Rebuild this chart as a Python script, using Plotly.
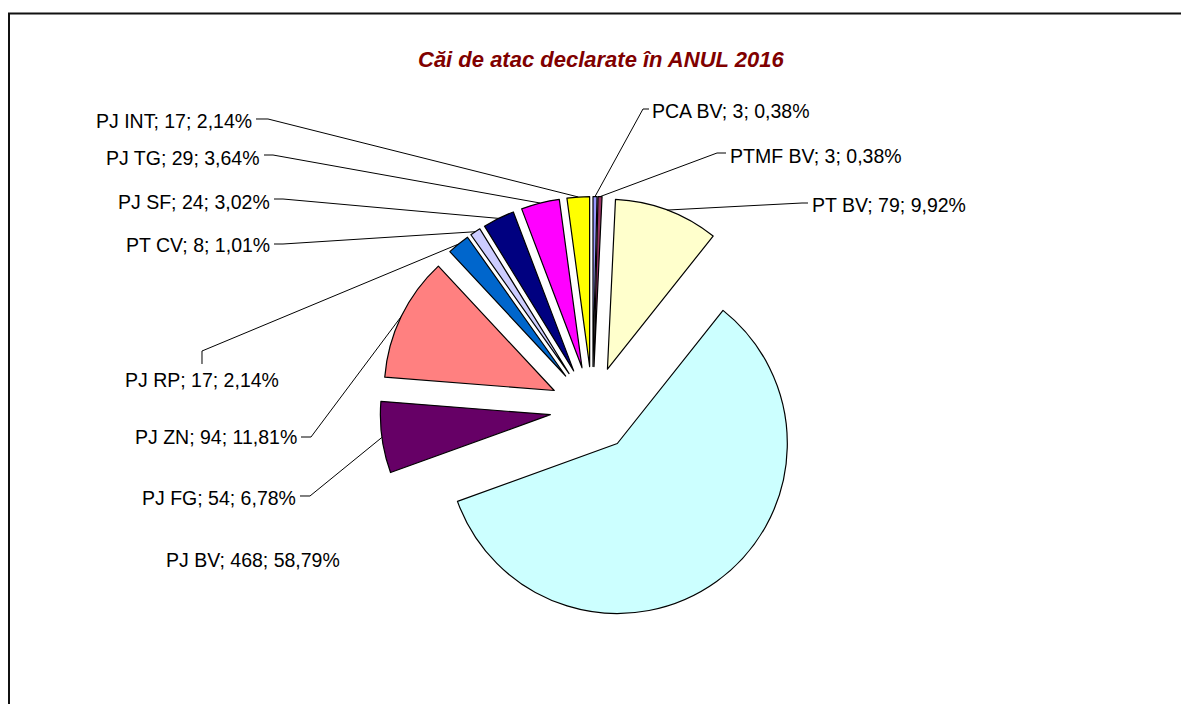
import math
import plotly.graph_objects as go

# ---------------- data ----------------
names = ["PCA BV", "PTMF BV", "PT BV", "PJ BV", "PJ FG", "PJ ZN",
         "PJ RP", "PT CV", "PJ SF", "PJ TG", "PJ INT"]
values = [3, 3, 79, 468, 54, 94, 17, 8, 24, 29, 17]
colors = ["#9999FF", "#993366", "#FFFFCC", "#CCFFFF", "#660066", "#FF8080",
          "#0066CC", "#CCCCFF", "#000080", "#FF00FF", "#FFFF00"]
title_text = "Căi de atac declarate în ANUL 2016"

# ---------------- layout constants ----------------
W, H = 1189, 704
OFF = 8  # page body margin of the html
PULL = 0.25
FONT = "Liberation Sans, Arial, sans-serif"

# pie placement in window pixels: centre and outer radius (before pull)
PIE_CX, PIE_CY, PIE_R = 592.5, 409, 170
half = PIE_R * (1 + PULL)
dom_x = [(PIE_CX - OFF - half) / W, (PIE_CX - OFF + half) / W]
dom_y = [1 - (PIE_CY - OFF + half) / H, 1 - (PIE_CY - OFF - half) / H]

# label placement in window pixels: (x, y, xanchor, leader points from slice side to label)
label_pos = {
    "PCA BV":  (650, 111, "left",   [(643, 109), (649, 109)]),
    "PTMF BV": (728, 156, "left",   [(717, 153), (726, 153)]),
    "PT BV":   (810, 205, "left",   [(802, 203), (808, 203)]),
    "PJ BV":   (253, 560, "center", []),
    "PJ FG":   (298, 498, "right",  [(310, 496), (300, 496)]),
    "PJ ZN":   (299, 437, "right",  [(311, 437), (301, 437)]),
    "PJ RP":   (202, 380, "center", [(202, 351), (202, 364)]),
    "PT CV":   (272, 245, "right",  [(283, 244), (274, 244)]),
    "PJ SF":   (272, 202, "right",  [(283, 199), (274, 199)]),
    "PJ TG":   (262, 158, "right",  [(273, 155), (264, 155)]),
    "PJ INT":  (254, 121, "right",  [(268, 119), (256, 119)]),
}

total = sum(values)


def fmt_pct(v):
    return f"{100 * v / total:.2f}".replace(".", ",") + "%"


def px2paper(x, y):
    return (x - OFF) / W, 1 - (y - OFF) / H


# pie geometry as Plotly computes it (margins are zero), in window pixels
cx = W * (dom_x[0] + dom_x[1]) / 2 + OFF
cy = H * (1 - (dom_y[0] + dom_y[1]) / 2) + OFF
r = min(W * (dom_x[1] - dom_x[0]), H * (dom_y[1] - dom_y[0])) / 2 / (1 + PULL)

fig = go.Figure()
fig.add_trace(go.Pie(
    labels=names, values=values, sort=False, direction="clockwise", rotation=0,
    pull=[PULL] * len(values), textinfo="none",
    marker=dict(colors=colors, line=dict(color="black", width=1.2)),
    domain=dict(x=dom_x, y=dom_y), showlegend=False,
    hovertemplate="%{label}: %{value} (%{percent})<extra></extra>",
))

shapes = []
annotations = []
cum = 0
for name, v in zip(names, values):
    a0 = cum / total * 360
    cum += v
    a1 = cum / total * 360
    mid = math.radians((a0 + a1) / 2)
    dx, dy = math.sin(mid), -math.cos(mid)
    ax = cx + (r + PULL * r) * dx
    ay = cy + (r + PULL * r) * dy
    x, y, xa, pts = label_pos[name]
    text = f"{name}; {v}; {fmt_pct(v)}"
    px, py = px2paper(x, y)
    annotations.append(dict(
        x=px, y=py, xref="paper", yref="paper", text=text, showarrow=False,
        xanchor=xa, yanchor="middle", font=dict(family=FONT, size=19.5, color="black"),
    ))
    if pts:
        path_pts = [(ax, ay)] + pts
        path = "M " + " L ".join(
            f"{px2paper(p[0], p[1])[0]:.5f},{px2paper(p[0], p[1])[1]:.5f}" for p in path_pts)
        shapes.append(dict(type="path", path=path, xref="paper", yref="paper",
                           line=dict(color="black", width=1)))

# chart frame
fx0, fy1 = px2paper(9, 13.5)
shapes.append(dict(type="rect", xref="paper", yref="paper",
                   x0=fx0, x1=1.05, y0=-0.05, y1=fy1,
                   line=dict(color="#111111", width=2), fillcolor="rgba(0,0,0,0)"))

tx, ty = px2paper(601, 60)
annotations.append(dict(
    x=tx, y=ty, xref="paper", yref="paper", text=f"<b><i>{title_text}</i></b>",
    showarrow=False, xanchor="center", yanchor="middle",
    font=dict(family=FONT, size=22, color="#800000"),
))

fig.update_layout(
    width=W, height=H, margin=dict(l=0, r=0, t=0, b=0),
    paper_bgcolor="white", plot_bgcolor="white",
    shapes=shapes, annotations=annotations,
)

fig.write_html("out.html")
